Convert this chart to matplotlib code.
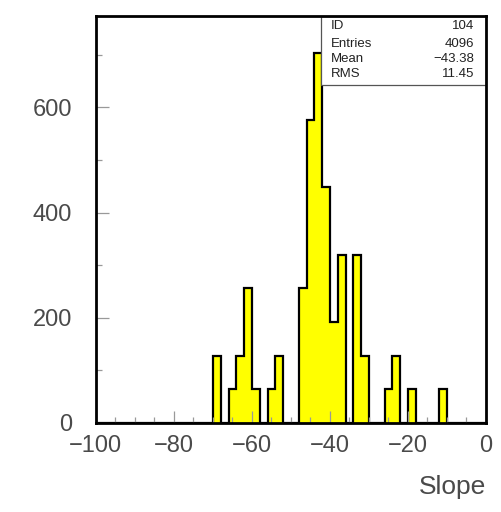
import numpy as np
import matplotlib
matplotlib.use("Agg")
import matplotlib.pyplot as plt
from matplotlib.ticker import MultipleLocator

# Histogram 104: 50 bins of width 2 between -100 and 0
bin_edges = np.linspace(-100, 0, 51)
counts = [0] * 15 + [
    128, 0, 64, 128, 256, 64, 0, 64, 128, 0,
    0, 256, 576, 704, 448, 192, 320, 0, 320, 128,
    0, 0, 64, 128, 0, 64, 0, 0, 0, 64,
] + [0] * 5

stat_names = ["ID", "Entries", "Mean", "RMS"]
stat_values = ["104", "4096", "\u221243.38", "11.45"]

plt.rcParams["font.family"] = ["Liberation Sans", "DejaVu Sans"]
plt.rcParams["axes.unicode_minus"] = True

fig = plt.figure(figsize=(5.02, 5.12), dpi=100)
ax = fig.add_axes([0.191, 0.174, 0.777, 0.795])

ax.stairs(counts, bin_edges, fill=True, facecolor="#ffff00", edgecolor="none")
ax.stairs(counts, bin_edges, color="black", linewidth=1.6, baseline=0)

ax.set_xlim(-100, 0)
ax.set_ylim(0, 774)

ax.xaxis.set_major_locator(MultipleLocator(20))
ax.xaxis.set_minor_locator(MultipleLocator(5))
ax.yaxis.set_major_locator(MultipleLocator(200))
ax.yaxis.set_minor_locator(MultipleLocator(100))
ax.tick_params(which="both", direction="in", color="#999999", width=0.9,
               top=False, right=False, labelcolor="#4a4a4a", labelsize=17)
ax.tick_params(which="major", length=9)
ax.tick_params(which="minor", length=4.5)
ax.tick_params(axis="x", pad=9)
ax.tick_params(axis="y", pad=17)

for sp in ax.spines.values():
    sp.set_linewidth(2)
    sp.set_color("black")
    sp.set_zorder(5)

ax.set_xlabel("Slope", fontsize=19, color="#4a4a4a", loc="right", labelpad=13)

# Statistics box in the upper right corner
box_left, box_bottom = 0.577, 0.83
ax.add_patch(plt.Rectangle((box_left, box_bottom), 1 - box_left, 1 - box_bottom,
                           transform=ax.transAxes, facecolor="white",
                           edgecolor="#555555", linewidth=0.9, zorder=4))
row_y = [0.976, 0.932, 0.893, 0.856]
for name, val, yy in zip(stat_names, stat_values, row_y):
    ax.text(0.603, yy, name, transform=ax.transAxes, fontsize=9.5, va="center",
            ha="left", color="#222222", zorder=6)
    ax.text(0.97, yy, val, transform=ax.transAxes, fontsize=9.5, va="center",
            ha="right", color="#222222", zorder=6)

fig.savefig("out.png", dpi=100)
